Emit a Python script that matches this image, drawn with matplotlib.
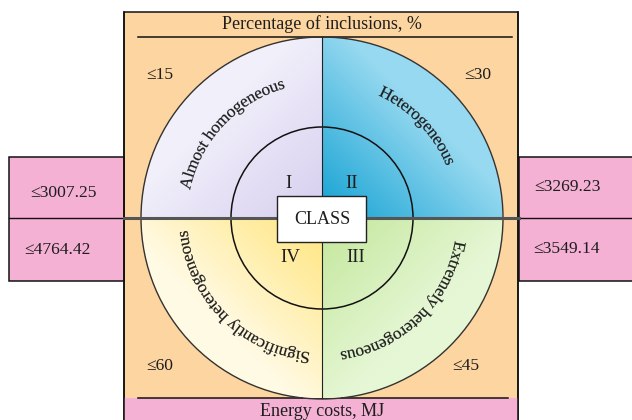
import numpy as np
import matplotlib
matplotlib.use('Agg')
import matplotlib.pyplot as plt
from matplotlib.patches import Rectangle, Circle, PathPatch
from matplotlib.path import Path
from matplotlib.textpath import TextPath
from matplotlib.font_manager import FontProperties
from matplotlib.colors import to_rgb

# Chart content
class_numerals = ['I', 'II', 'III', 'IV']
class_names = ['Almost homogeneous', 'Heterogeneous',
               'Extremely heterogeneous', 'Significantly heterogeneous']
inclusion_limits = ['≤15', '≤30', '≤45', '≤60']
energy_costs = ['≤3007.25', '≤3269.23', '≤3549.14', '≤4764.42']
top_title = 'Percentage of inclusions, %'
bottom_title = 'Energy costs, MJ'
centre_label = 'CLASS'

# Styles
orange = '#FDD5A1'
pink = '#F4B1D4'
ink = '#1E1E1E'
outer_cols = ['#F1EFFA', '#97D9F0', '#E6F7D6', '#FFFAE4']
inner_cols = ['#D6CEEF', '#12A1D3', '#C3E79B', '#FFE57C']

serif = 'Liberation Serif'
fp = FontProperties(family=serif)


def px(v):
    # pixel size -> points at dpi 100
    return v * 0.72


fig = plt.figure(figsize=(6.32, 4.2), dpi=100)
ax = fig.add_axes([0, 0, 1, 1])
ax.set_axis_off()

cx, cy, R, r_in = 322, 218, 181, 91

# Background frame and boxes
ax.add_patch(Rectangle((124, 12), 394, 420, facecolor=orange, edgecolor='#111', lw=1.1, zorder=1))
ax.add_patch(Rectangle((124, 398), 394, 30, facecolor=pink, edgecolor='none', zorder=1.5))
ax.plot([138, 508], [398, 398], color='#111', lw=1.1, zorder=1.6)
ax.plot([124, 124, 518, 518], [12, 428, 428, 12], color='#111', lw=1.1, zorder=1.6)
ax.plot([138, 512], [37, 37], color='#111', lw=1.1, zorder=1.6)

ax.add_patch(Rectangle((9, 157), 115, 124, facecolor=pink, edgecolor='#111', lw=1.1, zorder=1))
ax.add_patch(Rectangle((519, 157), 130, 124, facecolor=pink, edgecolor='#111', lw=1.1, zorder=1))
ax.plot([9, 124], [218, 218], color='#111', lw=1.0, zorder=1.6)
ax.plot([519, 640], [218, 218], color='#111', lw=1.0, zorder=1.6)

# Gradient-filled disc, one colour pair per quadrant
n = 2 * R
X, Y = np.meshgrid(np.linspace(cx - R, cx + R, n), np.linspace(cy - R, cy + R, n))
dx = X - cx
dy = cy - Y
img = np.zeros((n, n, 4))
signs = [(-1, 1), (1, 1), (1, -1), (-1, -1)]
for k, (sx, sy) in enumerate(signs):
    mask = (dx * sx >= 0) & (dy * sy >= 0)
    t = np.clip((dx * sx + dy * sy) / (R * 1.15), 0, 1)
    c0 = np.array(to_rgb(inner_cols[k]))
    c1 = np.array(to_rgb(outer_cols[k]))
    col = c0 + (c1 - c0) * t[..., None]
    img[mask, :3] = col[mask]
img[..., 3] = (dx ** 2 + dy ** 2 <= R ** 2).astype(float)
ax.imshow(img, extent=(cx - R, cx + R, cy + R, cy - R), interpolation='bilinear', zorder=2)

ax.add_patch(Circle((cx, cy), R, facecolor='none', edgecolor='#333', lw=1.0, zorder=3))
ax.add_patch(Circle((cx, cy), r_in, facecolor='none', edgecolor='#111', lw=1.1, zorder=3))
ax.plot([124, 519], [cy, cy], color='#555', lw=2.2, zorder=3)
ax.plot([cx, cx], [37, 398], color='#222', lw=0.8, zorder=3)

# Centre box
ax.add_patch(Rectangle((277, 196), 89, 46, facecolor='white', edgecolor='#222', lw=1.0, zorder=4))
ax.text(cx, 219, centre_label, ha='center', va='center', fontsize=px(18),
        family=serif, color=ink, zorder=5)


def arc_text(s, mid_deg, radius, size):
    # bend a text path round the circle, clockwise, letter tops outward
    tp = TextPath((0, 0), s, size=size, prop=fp)
    verts = tp.vertices
    ext = tp.get_extents()
    theta0 = np.radians(mid_deg) + (ext.width / 2) / radius
    th = theta0 - (verts[:, 0] - ext.x0) / radius
    rr = radius + verts[:, 1]
    pts = np.column_stack([cx + rr * np.cos(th), cy - rr * np.sin(th)])
    ax.add_patch(PathPatch(Path(pts, tp.codes), facecolor=ink, edgecolor=ink, lw=0.15, zorder=5))


arc_mid = [137, 44, -46, -135]
for name, ang in zip(class_names, arc_mid):
    arc_text(name, ang, 135, 16.8)

numeral_pos = [(288, 183), (352, 183), (356, 258), (290, 258)]
for lab, (x, y) in zip(class_numerals, numeral_pos):
    ax.text(x, y, lab, ha='center', va='center', fontsize=px(19), family=serif, color=ink, zorder=5)

limit_pos = [(160, 75), (478, 75), (466, 366), (160, 366)]
for lab, (x, y) in zip(inclusion_limits, limit_pos):
    ax.text(x, y, lab, ha='center', va='center', fontsize=px(17.5), family=serif, color=ink, zorder=5)

cost_pos = [(64, 193), (567, 187), (567, 249), (57, 250)]
for lab, (x, y) in zip(energy_costs, cost_pos):
    ax.text(x, y, lab, ha='center', va='center', fontsize=px(17.5), family=serif, color=ink, zorder=5)

ax.text(cx, 24, top_title, ha='center', va='center', fontsize=px(18), family=serif, color=ink, zorder=5)
ax.text(cx, 411, bottom_title, ha='center', va='center', fontsize=px(18), family=serif, color=ink, zorder=5)

ax.set_xlim(0, 632)
ax.set_ylim(420, 0)
ax.set_aspect('auto')

fig.savefig('out.png', dpi=100)
